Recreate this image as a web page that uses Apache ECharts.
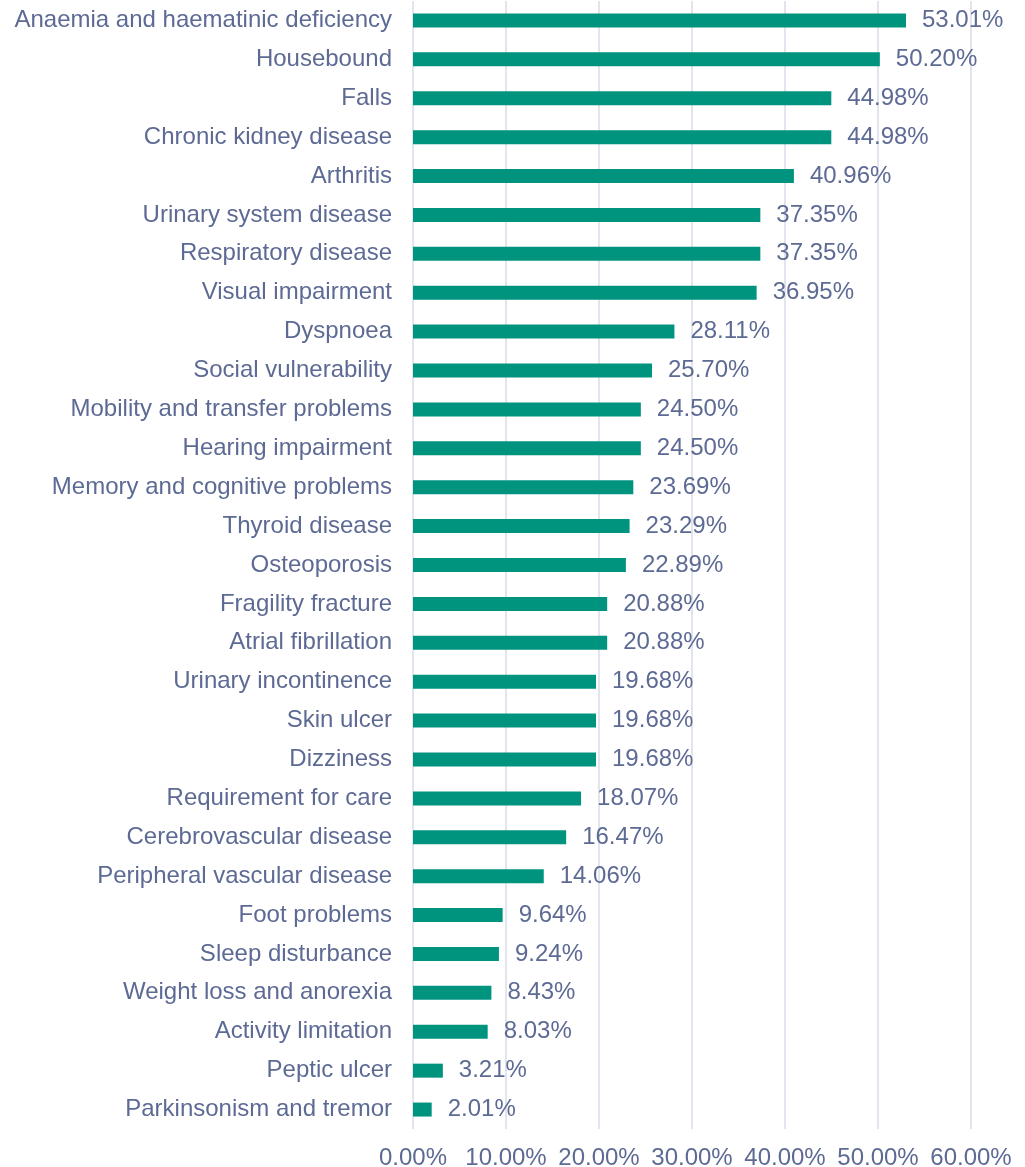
<!DOCTYPE html>
<html>
<head>
<meta charset="utf-8">
<script src="https://cdn.jsdelivr.net/npm/echarts@6/dist/echarts.min.js"></script>
<style>
  html, body { margin: 0; padding: 0; background: #ffffff; }
  #chart { width: 1025px; height: 1167px; }
</style>
</head>
<body>
<div id="chart"></div>
<script>
// Prevalence of conditions, listed top to bottom
const categories = [
  'Anaemia and haematinic deficiency',
  'Housebound',
  'Falls',
  'Chronic kidney disease',
  'Arthritis',
  'Urinary system disease',
  'Respiratory disease',
  'Visual impairment',
  'Dyspnoea',
  'Social vulnerability',
  'Mobility and transfer problems',
  'Hearing impairment',
  'Memory and cognitive problems',
  'Thyroid disease',
  'Osteoporosis',
  'Fragility fracture',
  'Atrial fibrillation',
  'Urinary incontinence',
  'Skin ulcer',
  'Dizziness',
  'Requirement for care',
  'Cerebrovascular disease',
  'Peripheral vascular disease',
  'Foot problems',
  'Sleep disturbance',
  'Weight loss and anorexia',
  'Activity limitation',
  'Peptic ulcer',
  'Parkinsonism and tremor'
];

// Percentages
const values = [
  53.01, 50.20, 44.98, 44.98, 40.96, 37.35, 37.35, 36.95, 28.11, 25.70,
  24.50, 24.50, 23.69, 23.29, 22.89, 20.88, 20.88, 19.68, 19.68, 19.68,
  18.07, 16.47, 14.06, 9.64, 9.24, 8.43, 8.03, 3.21, 2.01
];

const axisMin = 0;
const axisMax = 60;
const axisStep = 10;

const textColor = '#5d6a94';
const fontFamily = '"Liberation Sans", Arial, sans-serif';
const fontSize = 24;

const chart = echarts.init(document.getElementById('chart'));
chart.setOption({
  animation: false,
  backgroundColor: '#ffffff',
  grid: {
    left: 413, right: 54, top: 1, bottom: 38,
    containLabel: false,
    outerBoundsMode: 'none'
  },
  xAxis: {
    type: 'value',
    min: axisMin,
    max: axisMax,
    interval: axisStep,
    axisLine: { show: false },
    axisTick: { show: false },
    axisLabel: {
      color: textColor,
      fontSize: fontSize,
      fontFamily: fontFamily,
      margin: 17,
      formatter: v => v.toFixed(2) + '%'
    },
    splitLine: { show: true, lineStyle: { color: '#d9dce7', width: 1.5 } }
  },
  yAxis: {
    type: 'category',
    data: categories,
    inverse: true,
    axisLine: { show: false },
    axisTick: { show: false },
    axisLabel: {
      color: textColor,
      fontSize: fontSize,
      fontFamily: fontFamily,
      margin: 21
    }
  },
  series: [{
    type: 'bar',
    data: values,
    barWidth: 14,
    itemStyle: { color: '#00947f' },
    label: {
      show: true,
      position: 'right',
      distance: 16,
      color: textColor,
      fontSize: fontSize,
      fontFamily: fontFamily,
      formatter: p => p.value.toFixed(2) + '%'
    }
  }]
});
</script>
</body>
</html>
